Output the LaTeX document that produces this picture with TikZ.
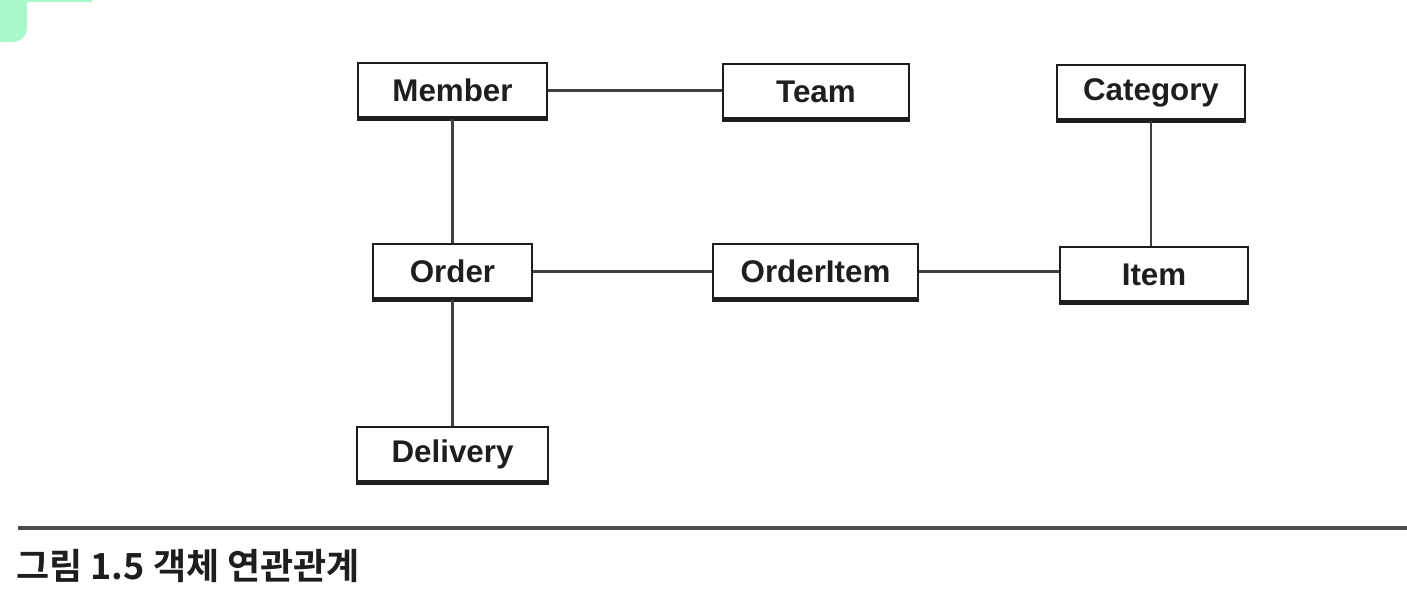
\documentclass[tikz,border=0pt]{standalone}
\usepackage{fontspec}
\setmainfont{Liberation Sans}
\newfontfamily\krfont{Noto Sans CJK KR}[BoldFont={* Bold}]
\definecolor{mint}{HTML}{A8FACB}
\definecolor{ink}{HTML}{1E1E1E}
\begin{document}
\begin{tikzpicture}[x=0.75pt,y=-0.75pt,
  entity/.style={draw=ink, line width=2.1pt, fill=white, inner sep=0pt,
    minimum height=41.25pt, font=\bfseries\fontsize{23.5}{26}\selectfont, text=ink},
  link/.style={draw=ink!85, line width=1.7pt},
  shadowline/.style={draw=ink, line width=3.8pt}]
\useasboundingbox (0,0) rectangle (1407,615);
% top-left mint decoration
\fill[mint] (0,0) -- (92,0) -- (92,2) -- (27,2) -- (27,27) .. controls (27,36) and (21,42) .. (12,42) -- (0,42) -- cycle;
% nodes
\node[entity, minimum width=141.75pt] (member) at (452.5,90.5) {Member};
\node[entity, minimum width=139.5pt] (team) at (816,91.5) {Team};
\node[entity, minimum width=141pt] (category) at (1151,92.5) {Category};
\node[entity, minimum width=119.25pt] (order) at (452.5,271.5) {Order};
\node[entity, minimum width=153.75pt] (orderitem) at (815.5,271.5) {OrderItem};
\node[entity, minimum width=141pt] (item) at (1154,274.5) {Item};
\node[entity, minimum width=143.25pt] (delivery) at (452.5,454.5) {Delivery};
% thick bottom edges
\foreach \n in {member,team,category,order,orderitem,item,delivery}
  \draw[shadowline] ([yshift=0.6pt]\n.south west) -- ([yshift=0.6pt]\n.south east);
% connectors
\draw[link] (member.east) -- (member.east -| team.west);
\draw[link] (member.south) -- (order.north);
\draw[link] (order.south) -- (delivery.north);
\draw[link] (order.east) -- (order.east -| orderitem.west);
\draw[link] (orderitem.east) -- (orderitem.east -| item.west);
\draw[link] (category.south) -- (category.south |- item.north);
% caption rule and caption
\coordinate (ruleL) at (18,528);
\coordinate (ruleR) at (1407,528);
\draw[draw=ink!80, line width=2.8pt] (ruleL) -- (ruleR);
\node[anchor=west, inner sep=0pt, text=ink, font=\krfont\bfseries\fontsize{27}{30}\selectfont] (caption) at (16,566) {그림 1.5 객체 연관관계};
\end{tikzpicture}
\end{document}
